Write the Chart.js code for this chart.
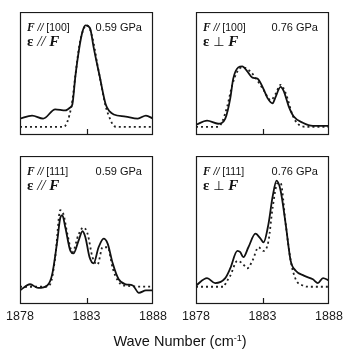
<!DOCTYPE html>
<html>
<head>
<meta charset="utf-8">
<script src="https://cdn.jsdelivr.net/npm/chart.js@4.4.1/dist/chart.umd.min.js"></script>
<style>
  html, body { margin: 0; padding: 0; background: #fff; }
  body { width: 353px; height: 357px; position: relative; overflow: hidden;
         font-family: "Liberation Sans", Arial, sans-serif; color: #111; }
  canvas { position: absolute; }
  .lab { position: absolute; white-space: nowrap; line-height: 1; }
  .l1 { font-size: 10.5px; }
  .l2 { font-size: 15px; font-family: "Liberation Serif", serif; }
  .gpa { font-size: 11px; text-align: right; width: 60px; }
  .bf { font-family: "Liberation Serif", serif; font-weight: bold; font-style: italic; }
  .it { font-style: italic; }
  .title { position: absolute; left: 0; width: 360px; top: 334px; text-align: center;
           font-size: 14.5px; line-height: 1; }
  .title sup { font-size: 9px; vertical-align: 5px; }
</style>
</head>
<body>
<canvas id="c1" width="173" height="145" style="left:0px;top:12px;width:173px;height:145px"></canvas>
<canvas id="c2" width="173" height="145" style="left:176px;top:12px;width:173px;height:145px"></canvas>
<canvas id="c3" width="173" height="170" style="left:0px;top:156px;width:173px;height:170px"></canvas>
<canvas id="c4" width="173" height="170" style="left:176px;top:156px;width:173px;height:170px"></canvas>
<div class="title">Wave Number (cm<sup>-1</sup>)</div>
<script>
// x axis ticks (cm-1)
const xTicks = [1878, 1883, 1888];

// panel 1: F // [100], 0.59 GPa, eps // F
const expWn1  = [1878, 1878.91, 1879.74, 1880.65, 1881.41, 1881.79, 1881.94, 1882.17, 1882.47, 1882.7, 1882.92, 1883.15, 1883.3, 1883.53, 1883.98, 1884.44, 1884.74, 1885.05, 1885.95, 1886.86, 1887.47, 1888];
const expInt1 = [0.06, 0.09, 0.06, 0.15, 0.14, 0.17, 0.2, 0.48, 0.76, 0.91, 0.97, 0.96, 0.93, 0.76, 0.48, 0.2, 0.13, 0.1, 0.08, 0.06, 0.09, 0.06];
const calcWn1  = [1878, 1881.26, 1881.41, 1881.71, 1881.94, 1882.17, 1882.47, 1882.77, 1883.0, 1883.23, 1883.53, 1883.83, 1884.14, 1884.44, 1884.67, 1885.05, 1885.27, 1888];
const calcInt1 = [-0.02, -0.02, -0.01, 0.09, 0.24, 0.49, 0.78, 0.93, 0.97, 0.94, 0.8, 0.58, 0.37, 0.18, 0.09, -0.01, -0.02, -0.02];

// panel 2: F // [100], 0.76 GPa, eps perp F
const expWn2  = [1878, 1878.83, 1879.67, 1880.2, 1880.58, 1880.8, 1881.18, 1881.48, 1881.86, 1882.24, 1882.62, 1883.0, 1883.38, 1883.76, 1883.98, 1884.36, 1884.59, 1884.97, 1885.35, 1886.03, 1886.79, 1888];
const expInt2 = [0.0, 0.04, 0.01, 0.06, 0.26, 0.45, 0.56, 0.57, 0.52, 0.46, 0.45, 0.37, 0.26, 0.21, 0.27, 0.37, 0.33, 0.18, 0.08, 0.02, -0.01, -0.01];
const calcWn2  = [1878, 1879.67, 1879.97, 1880.35, 1880.73, 1881.11, 1881.48, 1882.09, 1882.62, 1883.08, 1883.61, 1883.98, 1884.36, 1884.74, 1885.27, 1885.65, 1886.26, 1888];
const calcInt2 = [-0.02, -0.02, 0.03, 0.18, 0.39, 0.52, 0.56, 0.52, 0.43, 0.34, 0.24, 0.3, 0.39, 0.31, 0.09, 0.01, -0.02, -0.02];

// panel 3: F // [111], 0.59 GPa, eps // F
const expWn3  = [1878, 1878.76, 1879.36, 1880.05, 1880.42, 1880.8, 1881.03, 1881.18, 1881.41, 1881.79, 1882.02, 1882.39, 1882.7, 1882.92, 1883.23, 1883.53, 1883.91, 1884.29, 1884.59, 1884.97, 1885.42, 1885.95, 1886.48, 1886.94, 1887.47, 1888];
const expInt3 = [0.01, 0.06, 0.03, 0.05, 0.14, 0.41, 0.6, 0.62, 0.52, 0.33, 0.31, 0.41, 0.49, 0.44, 0.28, 0.23, 0.36, 0.43, 0.39, 0.23, 0.1, 0.06, 0.05, -0.01, 0.01, 0.01];
const calcWn3  = [1878, 1879.89, 1880.27, 1880.65, 1881.03, 1881.26, 1881.56, 1881.94, 1882.39, 1882.77, 1883.08, 1883.45, 1883.83, 1884.21, 1884.59, 1884.97, 1885.35, 1885.8, 1888];
const calcInt3 = [0.04, 0.04, 0.06, 0.28, 0.66, 0.63, 0.47, 0.32, 0.46, 0.52, 0.47, 0.28, 0.22, 0.36, 0.36, 0.19, 0.09, 0.05, 0.04];

// panel 4: F // [111], 0.76 GPa, eps perp F
const expWn4  = [1878, 1878.83, 1879.44, 1880.2, 1880.58, 1881.11, 1881.33, 1881.56, 1881.94, 1882.47, 1882.85, 1883.08, 1883.45, 1883.76, 1884.06, 1884.36, 1884.74, 1885.12, 1885.5, 1886.11, 1886.79, 1887.17, 1887.55, 1888];
const expInt4 = [0.05, 0.11, 0.07, 0.11, 0.19, 0.33, 0.32, 0.28, 0.36, 0.47, 0.43, 0.4, 0.55, 0.77, 0.9, 0.82, 0.55, 0.25, 0.17, 0.13, 0.1, 0.07, 0.11, 0.09];
const calcWn4  = [1878, 1880.12, 1880.2, 1880.58, 1881.11, 1881.48, 1881.86, 1882.24, 1882.7, 1883.08, 1883.45, 1883.76, 1884.14, 1884.36, 1884.74, 1885.12, 1885.5, 1886.03, 1886.48, 1888];
const calcInt4 = [0.04, 0.04, 0.06, 0.13, 0.25, 0.23, 0.19, 0.25, 0.36, 0.33, 0.41, 0.68, 0.88, 0.88, 0.55, 0.25, 0.1, 0.05, 0.04, 0.04];

// panel captions
const fieldDirs = ['[100]', '[100]', '[111]', '[111]'];
const pressures = ['0.59 GPa', '0.76 GPa', '0.59 GPa', '0.76 GPa'];
const polars = ['//', '\u22A5', '//', '\u22A5'];

const panelLeft = [20, 196, 20, 196];
const panelTop = [12, 12, 156, 156];

function pts(xs, ys) {
    return xs.map((x, i) => ({x: x, y: ys[i]}));
}

// frame round the plot area + the inner tick at 1883
const framePlugin = {
    id: 'frame',
    afterDraw(chart) {
        const {ctx, chartArea: a, scales: {x}} = chart;
        ctx.save();
        ctx.strokeStyle = '#1a1a1a';
        ctx.lineWidth = 1.2;
        ctx.strokeRect(a.left + 0.5, a.top + 0.5, a.right - a.left - 1, a.bottom - a.top - 1);
        const px = Math.round(x.getPixelForValue(xTicks[1])) + 0.5;
        ctx.beginPath();
        ctx.moveTo(px, a.bottom);
        ctx.lineTo(px, a.bottom - 6);
        ctx.stroke();
        ctx.restore();
    }
};

function makeChart(id, expWn, expInt, calcWn, calcInt, showTicks) {
    return new Chart(document.getElementById(id), {
        type: 'line',
        data: {
            datasets: [{
                data: pts(expWn, expInt),
                borderColor: '#111',
                borderWidth: 1.8,
                pointRadius: 0,
                cubicInterpolationMode: 'monotone',
                fill: false,
            }, {
                data: pts(calcWn, calcInt),
                borderColor: '#222',
                borderWidth: 1.8,
                borderDash: [2, 3],
                pointRadius: 0,
                cubicInterpolationMode: 'monotone',
                fill: false,
            }]
        },
        options: {
            responsive: false,
            animation: false,
            devicePixelRatio: 1,
            layout: {padding: {left: 20, right: 20, top: 0, bottom: 0}},
            plugins: {legend: {display: false}, tooltip: {enabled: false}},
            scales: {
                x: {
                    type: 'linear',
                    min: 1878,
                    max: 1888,
                    display: showTicks,
                    afterBuildTicks: s => { s.ticks = xTicks.map(v => ({value: v})); },
                    afterFit: s => { s.height = 22; },
                    grid: {display: false, drawTicks: false},
                    border: {display: false},
                    ticks: {
                        color: '#1a1a1a',
                        padding: 5,
                        maxRotation: 0,
                        autoSkip: false,
                        callback: v => String(v),
                        font: {family: '"Liberation Sans", Arial, sans-serif', size: 12.5},
                    },
                },
                y: {min: -0.1, max: 1.1, display: false},
            },
        },
        plugins: [framePlugin],
    });
}

makeChart('c1', expWn1, expInt1, calcWn1, calcInt1, false);
makeChart('c2', expWn2, expInt2, calcWn2, calcInt2, false);
makeChart('c3', expWn3, expInt3, calcWn3, calcInt3, true);
makeChart('c4', expWn4, expInt4, calcWn4, calcInt4, true);

// captions inside each panel
for (let i = 0; i < 4; i++) {
    const l1 = document.createElement('div');
    l1.className = 'lab l1';
    l1.style.left = (panelLeft[i] + 7) + 'px';
    l1.style.top = (panelTop[i] + 10) + 'px';
    l1.innerHTML = '<span class="bf" style="font-size:11.5px">F</span> <span class="it">//</span> ' + fieldDirs[i];
    document.body.appendChild(l1);

    const g = document.createElement('div');
    g.className = 'lab gpa';
    g.style.left = (panelLeft[i] + 132 - 10 - 60) + 'px';
    g.style.top = (panelTop[i] + 10) + 'px';
    g.textContent = pressures[i];
    document.body.appendChild(g);

    const l2 = document.createElement('div');
    l2.className = 'lab l2';
    l2.style.left = (panelLeft[i] + 7) + 'px';
    l2.style.top = (panelTop[i] + 22) + 'px';
    const sym = polars[i] === '//' ? '<span class="it">//</span>'
        : '<span style="font-family:\'DejaVu Sans\';font-size:13px">' + polars[i] + '</span>';
    l2.innerHTML = '<b>\u03B5</b> ' + sym + ' <span class="bf">F</span>';
    document.body.appendChild(l2);
}
</script>
</body>
</html>
